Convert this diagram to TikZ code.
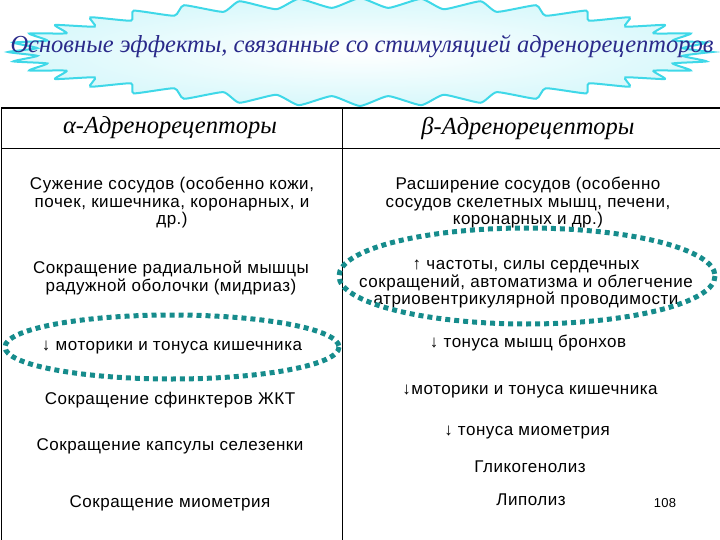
\documentclass[tikz,border=0pt]{standalone}
\usepackage{fontspec}
\setmainfont{Liberation Sans}[LetterSpace=3]
\newfontfamily\scriptf{Liberation Serif}
\definecolor{teal1}{HTML}{168C8C}
\definecolor{cyanb}{HTML}{3FD8E8}
\definecolor{cyanf}{HTML}{D8F8FB}
\definecolor{navy}{HTML}{2A2A8A}
\begin{document}
\begin{tikzpicture}[x=1pt,y=-1pt,
  txt/.style={font=\fontsize{17}{17.5}\selectfont, align=center, inner sep=0pt},
  hdr/.style={font=\scriptf\itshape\fontsize{24.5}{26}\selectfont, inner sep=0pt},
  dots/.style={teal1, line width=5pt, dash pattern=on 5pt off 4pt}]
\useasboundingbox (0,0) rectangle (720,540);
% title banner
\draw[cyanb, line width=2pt, inner color=white, outer color=cyanf]
  plot[smooth, tension=0.3, samples=73, domain=0:360, variable=\t]
  ({360+(352)*cos(\t)*(1-0.08*mod(round(\t/5),2))},
   {52+(54)*sin(\t)*(1-0.18*mod(round(\t/5),2))}) -- cycle;
\node[font=\scriptf\itshape\fontsize{24.5}{26}\selectfont, text=navy, inner sep=0pt] (title) at (362,46)
  {Основные эффекты, связанные со стимуляцией адренорецепторов};
% table
\draw[line width=1.5pt] (1,108) -- (720,108);
\draw[line width=1pt] (1,149) -- (720,149);
\draw[line width=1pt] (1,108) -- (1,540);
\draw[line width=1pt] (342,108) -- (342,540);
\node[hdr] (ha) at (170,128) {α-Адренорецепторы};
\node[hdr] (hb) at (528,128) {β-Адренорецепторы};
% left
\node[txt] (a1) at (172,203) {Сужение сосудов (особенно кожи,\\почек, кишечника, коронарных, и\\др.)};
\node[txt] (a2) at (171,278) {Сокращение радиальной мышцы\\радужной оболочки (мидриаз)};
\node[txt] (a3) at (172,347) {↓ моторики и тонуса кишечника};
\node[txt] (a4) at (170,400) {Сокращение сфинктеров ЖКТ};
\node[txt] (a5) at (170,446) {Сокращение капсулы селезенки};
\node[txt] (a6) at (170,503) {Сокращение миометрия};
% right
\node[txt] (b1) at (528,203) {Расширение сосудов (особенно\\сосудов скелетных мышц, печени,\\коронарных и др.)};
\node[txt] (b2) at (526,284) {↑ частоты, силы сердечных\\сокращений, автоматизма и облегчение\\атриовентрикулярной проводимости};
\node[txt] (b3) at (528,343) {↓ тонуса мышц бронхов};
\node[txt] (b4) at (530,391) {↓моторики и тонуса кишечника};
\node[txt] (b5) at (527,432) {↓ тонуса миометрия};
\node[txt] (b6) at (530,467) {Гликогенолиз};
\node[txt] (b7) at (531,500) {Липолиз};
\node[txt, font=\fontsize{13}{14}\selectfont] (pg) at (665,503) {108};
% ellipses
\draw[dots] (a3) ellipse [x radius=167, y radius=32];
\draw[dots] (527,276) ellipse [x radius=188, y radius=48];
\end{tikzpicture}
\end{document}
